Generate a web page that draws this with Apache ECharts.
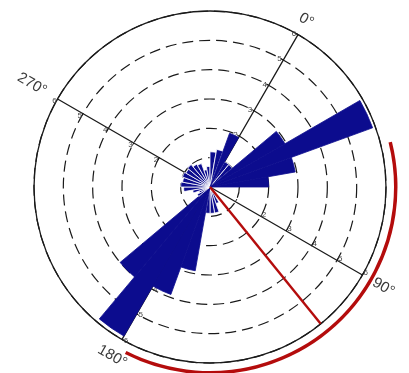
<!DOCTYPE html>
<html>
<head>
<meta charset="utf-8">
<script src="https://cdn.jsdelivr.net/npm/echarts@6/dist/echarts.min.js"></script>
<style>
  html, body { margin: 0; padding: 0; background: #ffffff; }
  #chart { width: 409px; height: 373px; }
</style>
</head>
<body>
<div id="chart"></div>
<script>
// Direction classes (10° wide) and the frequency in each class
const directionBins = ['0', '10', '20', '30', '40', '50', '60', '70', '80', '90',
  '100', '110', '120', '130', '140', '150', '160', '170', '180', '190',
  '200', '210', '220', '230', '240', '250', '260', '270', '280', '290',
  '300', '310', '320', '330', '340', '350'];
const frequency = [1.0, 1.0, 2.95, 5.9, 2.95, 2.0, 0, 0, 0, 0,
  0, 0.3, 0.6, 0.9, 0.9, 0.9, 2.9, 3.9, 5.87, 4.0,
  0.5, 0.4, 0.6, 0.9, 1.0, 0.95, 1.0, 0.95, 1.0, 0.9,
  0.85, 0.6, 0.7, 1.2, 1.3, 1.95];

// Ring scale
const ringMax = 6;
const ringStep = 1;

// Compass names on the four arms (0°, 90°, 180°, 270°)
const compassLabels = ['0°', '90°', '180°', '270°'];

// Mean direction and the spread arc (degrees)
const meanDirection = 111;
const arcStart = 46;
const arcEnd = 177;

const CENTER = [210, 187];
const RADIUS = 176;
const START = 60;          // screen angle of the 0° direction
const NAVY = '#0c0c8e';
const RED = '#b40c0c';
const INK = '#1a1a1a';

const chart = echarts.init(document.getElementById('chart'), null, { renderer: 'canvas' });

function arm(polarIndex, name, gap, withRings) {
  return {
    polarIndex: polarIndex,
    type: 'value',
    min: 0,
    max: ringMax,
    interval: ringStep,
    name: name,
    nameLocation: 'end',
    nameGap: gap,
    nameRotate: -30,
    nameTextStyle: { fontFamily: 'Liberation Sans', fontSize: 15, color: '#3a3a3a' },
    axisLine: { show: true, lineStyle: { color: INK, width: 1.3 } },
    axisTick: { show: true, length: 3, lineStyle: { color: INK, width: 1 } },
    axisLabel: {
      show: true,
      margin: 2,
      fontSize: 8,
      fontFamily: 'Liberation Sans',
      color: '#444',
      formatter: v => (v >= 2 ? String(v) : '')
    },
    splitLine: withRings
      ? { show: true, lineStyle: { color: INK, width: 1.2, type: [11, 6] } }
      : { show: false },
    z: 1
  };
}

const hidden = { show: false };

const option = {
  backgroundColor: '#ffffff',
  animation: false,
  polar: [
    { center: CENTER, radius: RADIUS },
    { center: CENTER, radius: RADIUS },
    { center: CENTER, radius: RADIUS },
    { center: CENTER, radius: RADIUS },
    { center: CENTER, radius: RADIUS },
    { center: CENTER, radius: [184, 187.5] }
  ],
  angleAxis: [
    {
      polarIndex: 0, type: 'category', data: directionBins, startAngle: START,
      boundaryGap: true,
      axisLine: { show: true, lineStyle: { color: INK, width: 1.3 } },
      axisTick: hidden, axisLabel: hidden, splitLine: hidden, splitArea: hidden
    },
    { polarIndex: 1, type: 'value', min: 0, max: 360, startAngle: START - 90, show: false },
    { polarIndex: 2, type: 'value', min: 0, max: 360, startAngle: START - 180, show: false },
    { polarIndex: 3, type: 'value', min: 0, max: 360, startAngle: START + 90, show: false },
    { polarIndex: 4, type: 'value', min: 0, max: 360, startAngle: START, show: false },
    { polarIndex: 5, type: 'value', min: 0, max: 360, startAngle: START, show: false }
  ],
  radiusAxis: [
    arm(0, compassLabels[0], 9, true),
    arm(1, compassLabels[1], 13, false),
    arm(2, compassLabels[2], 12, false),
    arm(3, compassLabels[3], 14, false),
    { polarIndex: 4, type: 'value', min: 0, max: ringMax, show: false },
    { polarIndex: 5, type: 'category', data: ['spread'], show: false }
  ],
  series: [
    {
      type: 'bar',
      coordinateSystem: 'polar',
      polarIndex: 0,
      barWidth: '100%',
      barCategoryGap: '0%',
      data: frequency.map(v => ({
        value: v,
        itemStyle: v < 1.5
          ? { color: NAVY, borderColor: '#ffffff', borderWidth: 0.8 }
          : { color: NAVY, borderColor: NAVY, borderWidth: 0.8 }
      })),
      itemStyle: { color: NAVY },
      z: 3
    },
    // spread arc (transparent offset + red band)
    {
      type: 'bar',
      coordinateSystem: 'polar',
      polarIndex: 5,
      stack: 'spread',
      barWidth: '100%',
      barCategoryGap: '0%',
      itemStyle: { color: 'rgba(0,0,0,0)' },
      data: [arcStart],
      silent: true
    },
    {
      type: 'bar',
      coordinateSystem: 'polar',
      polarIndex: 5,
      stack: 'spread',
      barWidth: '100%',
      barCategoryGap: '0%',
      itemStyle: { color: RED },
      data: [arcEnd - arcStart],
      z: 5
    },
    // mean direction
    {
      type: 'line',
      coordinateSystem: 'polar',
      polarIndex: 4,
      clip: false,
      symbol: 'none',
      lineStyle: { color: RED, width: 2.4 },
      data: [[0, meanDirection], [6.28, meanDirection]],
      z: 5
    },
    // end hooks of the spread arc
    {
      type: 'line',
      coordinateSystem: 'polar',
      polarIndex: 4,
      clip: false,
      symbol: 'none',
      lineStyle: { color: RED, width: 2.2 },
      data: [[6.12, arcStart], [6.35, arcStart], ['-', '-'], [6.35, arcEnd], [6.12, arcEnd]],
      z: 5
    }
  ]
};

chart.setOption(option);
</script>
</body>
</html>
